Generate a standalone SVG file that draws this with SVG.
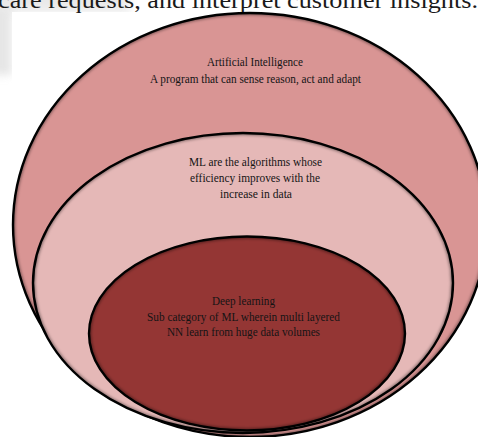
<svg xmlns="http://www.w3.org/2000/svg" width="478" height="437" viewBox="0 0 478 437">
  <style>
    .lbl { font-family: "Liberation Serif", "Times New Roman", serif; font-size: 11.5px; fill: #141414; text-anchor: middle; }
    .edge { fill: none; stroke: #000; stroke-width: 2.4; }
    .glow { fill: none; stroke: #000; stroke-width: 4; stroke-opacity: 0.45; filter: url(#soft); }
  </style>
  <defs>
    <filter id="soft" x="-10%" y="-10%" width="120%" height="120%">
      <feGaussianBlur stdDeviation="1.6"/>
    </filter>
    <filter id="haze" x="-50%" y="-50%" width="200%" height="200%">
      <feGaussianBlur stdDeviation="4"/>
    </filter>
    <clipPath id="cOuter"><ellipse cx="250" cy="225" rx="237" ry="212"/></clipPath>
    <clipPath id="cMid"><ellipse cx="243" cy="283" rx="210" ry="150"/></clipPath>
    <clipPath id="cIn"><ellipse cx="247" cy="333.5" rx="158" ry="97"/></clipPath>
  </defs>

  <rect width="478" height="437" fill="#ffffff"/>
  <!-- background haze of the scanned page -->
  <g filter="url(#haze)" opacity="0.6">
    <rect x="-10" y="-10" width="22" height="85" fill="#d6d6d6"/>
    <rect x="-10" y="-10" width="140" height="22" fill="#dcdcdc"/>
  </g>
  <rect x="12" y="12" width="466" height="425" fill="#ffffff"/>

  <text x="238" y="8" style="font-family: 'Liberation Serif', 'Times New Roman', serif; font-size: 24px; fill: #1a1a1a; text-anchor: middle;" textLength="480" lengthAdjust="spacingAndGlyphs">care requests, and interpret customer insights.</text>

  <g id="ai">
    <ellipse cx="250" cy="225" rx="237" ry="212" fill="#D99594"/>
    <ellipse class="glow" cx="250" cy="225" rx="237" ry="212" clip-path="url(#cOuter)"/>
    <ellipse class="edge" cx="250" cy="225" rx="237" ry="212"/>
    <text class="lbl" x="255" y="66" textLength="96" lengthAdjust="spacingAndGlyphs">Artificial Intelligence</text>
    <text class="lbl" x="255.5" y="82.5" textLength="211" lengthAdjust="spacingAndGlyphs">A program that can sense reason, act and adapt</text>
  </g>

  <g id="ml">
    <ellipse cx="243" cy="283" rx="210" ry="150" fill="#E5B8B7"/>
    <ellipse class="glow" cx="243" cy="283" rx="210" ry="150" clip-path="url(#cMid)"/>
    <ellipse class="edge" cx="243" cy="283" rx="210" ry="150"/>
    <text class="lbl" x="255.5" y="166" textLength="133" lengthAdjust="spacingAndGlyphs">ML are the algorithms whose</text>
    <text class="lbl" x="255" y="182" textLength="130" lengthAdjust="spacingAndGlyphs">efficiency improves with the</text>
    <text class="lbl" x="256" y="198" textLength="72" lengthAdjust="spacingAndGlyphs">increase in data</text>
  </g>

  <g id="dl">
    <ellipse cx="247" cy="333.5" rx="158" ry="97" fill="#943634"/>
    <ellipse class="glow" cx="247" cy="333.5" rx="158" ry="97" clip-path="url(#cIn)"/>
    <ellipse class="edge" cx="247" cy="333.5" rx="158" ry="97"/>
    <text class="lbl" x="243.5" y="305" textLength="63" lengthAdjust="spacingAndGlyphs">Deep learning</text>
    <text class="lbl" x="243.5" y="320.5" textLength="193" lengthAdjust="spacingAndGlyphs">Sub category of ML wherein multi layered</text>
    <text class="lbl" x="243.5" y="335.5" textLength="153" lengthAdjust="spacingAndGlyphs">NN learn from huge data volumes</text>
  </g>
</svg>
